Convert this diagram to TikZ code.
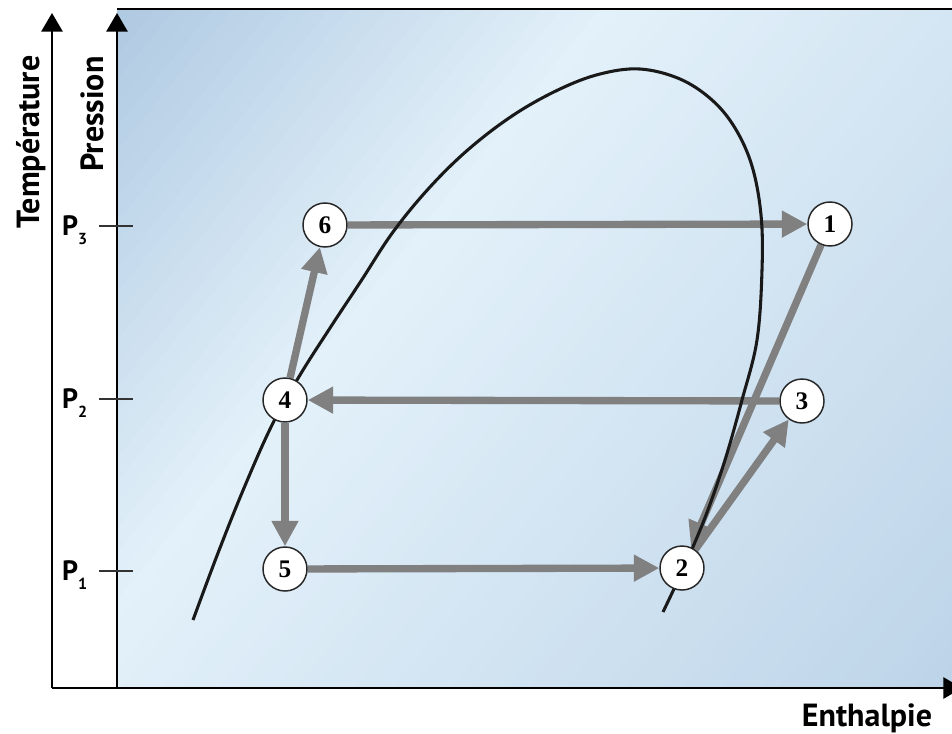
\documentclass[tikz,border=0pt]{standalone}
\usepackage{fontspec}
\setmainfont{Liberation Serif}
\newfontfamily\axisfont{PT Sans}
\usetikzlibrary{arrows.meta,positioning,calc}

\definecolor{panelblue}{RGB}{176,202,226}
\definecolor{panellight}{RGB}{227,241,250}
\definecolor{cyclegray}{RGB}{128,128,128}

\pgfdeclarelayer{background}
\pgfsetlayers{background,main}

\tikzset{
  state/.style={circle,draw=black!85,line width=1.1pt,fill=white,minimum size=33pt,inner sep=0pt,
    font=\fontsize{19}{19}\selectfont\bfseries},
  process/.style={draw=cyclegray,line width=5.5pt,-{Triangle[length=19pt,width=19pt]}},
  axisline/.style={line width=1.4pt,-{Triangle[length=14pt,width=16pt]}},
  axislabel/.style={font=\axisfont\bfseries\fontsize{24}{24}\selectfont},
  plabel/.style={font=\axisfont\bfseries\fontsize{21}{21}\selectfont,anchor=base east},
}

\begin{document}
\begin{tikzpicture}[x=0.75pt,y=-0.75pt]
  \useasboundingbox (0,0) rectangle (952,733);
  % points du cycle
  \node[state] (s1) at (830,224) {1};
  \node[state] (s2) at (682,568) {2};
  \node[state] (s3) at (802,401) {3};
  \node[state] (s4) at (285,400) {4};
  \node[state] (s5) at (285,569) {5};
  \node[state] (s6) at (325,225) {6};

  \begin{pgfonlayer}{background}
    % fond en degrade
    \begin{scope}
      \clip (117,9) rectangle (952,688);
      \foreach \c in {0,0.04,...,2.92} {
        \pgfmathsetmacro\mix{\c<1 ? (1-\c)*100 : min(75,(\c-1)*40)}
        \fill[panelblue!\mix!panellight] (117+483*\c,9) -- ++(22,0)
          -- (117+483*\c-555+22,688) -- (117+483*\c-555,688) -- cycle;
      }
    \end{scope}
    \draw[line width=1pt] (117,9) -- (952,9);
    \draw[process] (s6) -- (s1);
    \draw[process] (s1) -- (s2);
    \draw[process] (s2) -- (s3);
    \draw[process] (s3) -- (s4);
    \draw[process] (s4) -- (s6);
    \draw[process] (s4) -- (s5);
    \draw[process] (s5) -- (s2);
    % courbe de saturation
    \draw[line width=2.3pt,black!90] plot[smooth,tension=0.6] coordinates {(193,620) (218,553)
      (244,488) (272,425) (300,375) (330,328) (361,281) (393,232) (430,187) (470,148) (515,114)
      (560,89) (600,74) (640,69) (680,79) (712,100) (735,128) (752,166) (761,215) (762,270)
      (757,340) (742,400) (725,460) (706,515) (685,565) (663,612)};
  \end{pgfonlayer}

  \coordinate (o) at (52,688);
  \coordinate (ttop) at (52,13);
  \coordinate (pbot) at (117,688);
  \coordinate (ptop) at (117,13);
  \coordinate (hend) at (962,688);
  \draw[axisline] (o) -- (ttop);
  \draw[axisline] (pbot) -- (ptop);
  \draw[axisline] (o) -- (hend);

  \foreach \i/\py in {1/571,2/399,3/226} {
    \draw[line width=1pt,black!80] (99,\py) -- (133,\py);
    \node[plabel] (p\i) at (92,\py+9) {P\raisebox{-7pt}{\fontsize{12}{12}\selectfont\i}};
  }

  \node[axislabel,rotate=90,anchor=base] (ltemp) at (39,142) {Température};
  \node[axislabel,rotate=90,anchor=base] (lpres) at (103,114) {Pression};
  \node[axislabel,anchor=base] (lenth) at (867,726) {Enthalpie};
\end{tikzpicture}
\end{document}
